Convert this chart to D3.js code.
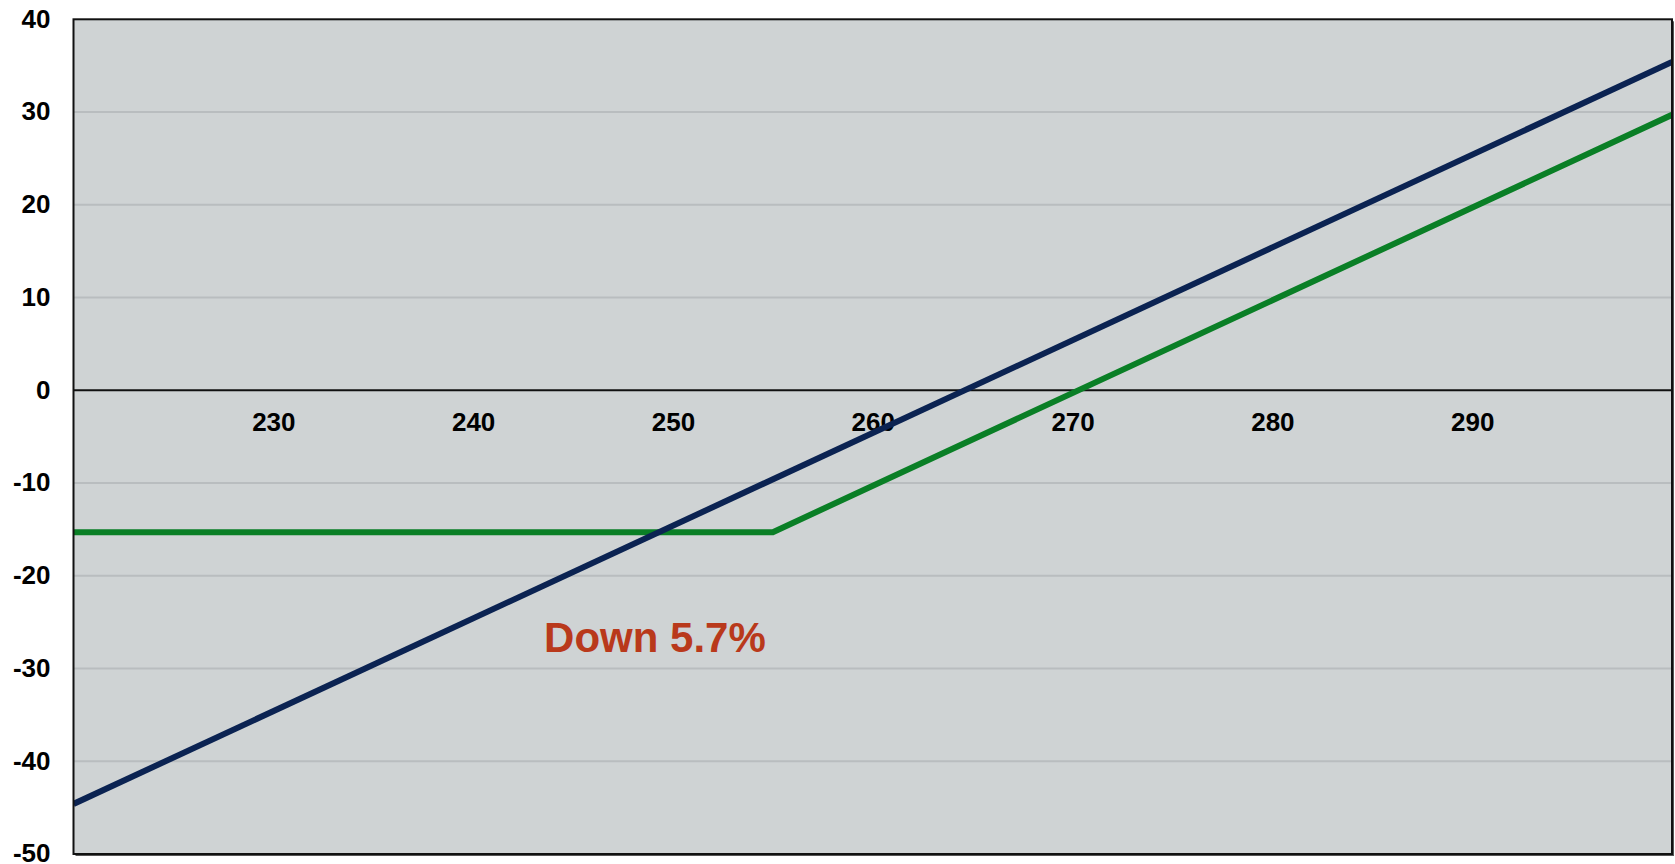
<!DOCTYPE html>
<html>
<head>
<meta charset="utf-8">
<script src="https://cdn.jsdelivr.net/npm/d3@7"></script>
<style>
  html, body { margin: 0; padding: 0; background: #ffffff; }
  svg { display: block; }
  text { font-family: "Liberation Sans", Arial, sans-serif; font-weight: bold; }
</style>
</head>
<body>
<svg id="chart" width="1675" height="864"></svg>
<script>
// Payoff at expiry versus underlying price
const xTicks = [230, 240, 250, 260, 270, 280, 290];
const yTicks = [-50, -40, -30, -20, -10, 0, 10, 20, 30, 40];
const xDomain = [220, 300];
const yDomain = [-50, 40];

// Long stock position
const stockPrice = [220, 300];
const stockPnL = [-44.6, 35.4];

// Call option position (flat premium loss below strike)
const callPrice = [220, 255, 300];
const callPnL = [-15.3, -15.3, 29.7];

const annotation = { text: "Down 5.7%", x: 243.55, y: -28.2 };

const svg = d3.select("#chart");
const plotLeft = 73.5, plotRight = 1672, plotTop = 19.3, plotBottom = 854;

const x = d3.scaleLinear().domain(xDomain).range([plotLeft, plotRight]);
const y = d3.scaleLinear().domain(yDomain).range([plotBottom, plotTop]);

// shadow + plot background
svg.append("rect")
  .attr("x", plotLeft + 2).attr("y", plotTop + 2)
  .attr("width", plotRight - plotLeft).attr("height", plotBottom - plotTop)
  .attr("fill", "#555");
svg.append("rect")
  .attr("x", plotLeft).attr("y", plotTop)
  .attr("width", plotRight - plotLeft).attr("height", plotBottom - plotTop)
  .attr("fill", "#cfd3d4");

// horizontal gridlines
svg.append("g")
  .selectAll("line")
  .data(yTicks.filter(d => d !== 0 && d !== yDomain[0] && d !== yDomain[1]))
  .join("line")
  .attr("x1", plotLeft).attr("x2", plotRight)
  .attr("y1", d => y(d)).attr("y2", d => y(d))
  .attr("stroke", "#b9bdbf").attr("stroke-width", 2);

// zero line
svg.append("line")
  .attr("x1", plotLeft).attr("x2", plotRight)
  .attr("y1", y(0)).attr("y2", y(0))
  .attr("stroke", "#111").attr("stroke-width", 2);

const plainNumber = d => String(d);

// y axis labels
const yAxis = d3.axisLeft(y).tickValues(yTicks).tickSize(0).tickPadding(23).tickFormat(plainNumber);
const gy = svg.append("g").attr("transform", `translate(${plotLeft},0)`).call(yAxis);
gy.select(".domain").remove();
gy.selectAll("text")
  .attr("font-size", 26).attr("font-family", null).attr("fill", "#000")
  .attr("dy", "0.3em");

// x axis labels placed below the zero line inside the plot
const xAxis = d3.axisBottom(x).tickValues(xTicks).tickSize(0).tickPadding(22).tickFormat(plainNumber);
const gx = svg.append("g").attr("transform", `translate(0,${y(0)})`).call(xAxis);
gx.select(".domain").remove();
gx.selectAll("text")
  .attr("font-size", 26).attr("font-family", null).attr("fill", "#000");

// payoff lines
const line = d3.line().x(d => x(d[0])).y(d => y(d[1]));
svg.append("clipPath").attr("id", "plotClip")
  .append("rect").attr("x", plotLeft).attr("y", plotTop)
  .attr("width", plotRight - plotLeft).attr("height", plotBottom - plotTop);

svg.append("path")
  .datum(d3.zip(callPrice, callPnL))
  .attr("d", line)
  .attr("fill", "none").attr("stroke", "#0a7f26").attr("stroke-width", 6)
  .attr("clip-path", "url(#plotClip)");

svg.append("path")
  .datum(d3.zip(stockPrice, stockPnL))
  .attr("d", line)
  .attr("fill", "none").attr("stroke", "#0b2352").attr("stroke-width", 6)
  .attr("clip-path", "url(#plotClip)");

// annotation
svg.append("text")
  .attr("x", x(annotation.x)).attr("y", y(annotation.y))
  .attr("font-size", 42).attr("fill", "#b9391b")
  .text(annotation.text);

// plot border
svg.append("rect")
  .attr("x", plotLeft).attr("y", plotTop)
  .attr("width", plotRight - plotLeft).attr("height", plotBottom - plotTop)
  .attr("fill", "none").attr("stroke", "#111").attr("stroke-width", 2);
</script>
</body>
</html>
